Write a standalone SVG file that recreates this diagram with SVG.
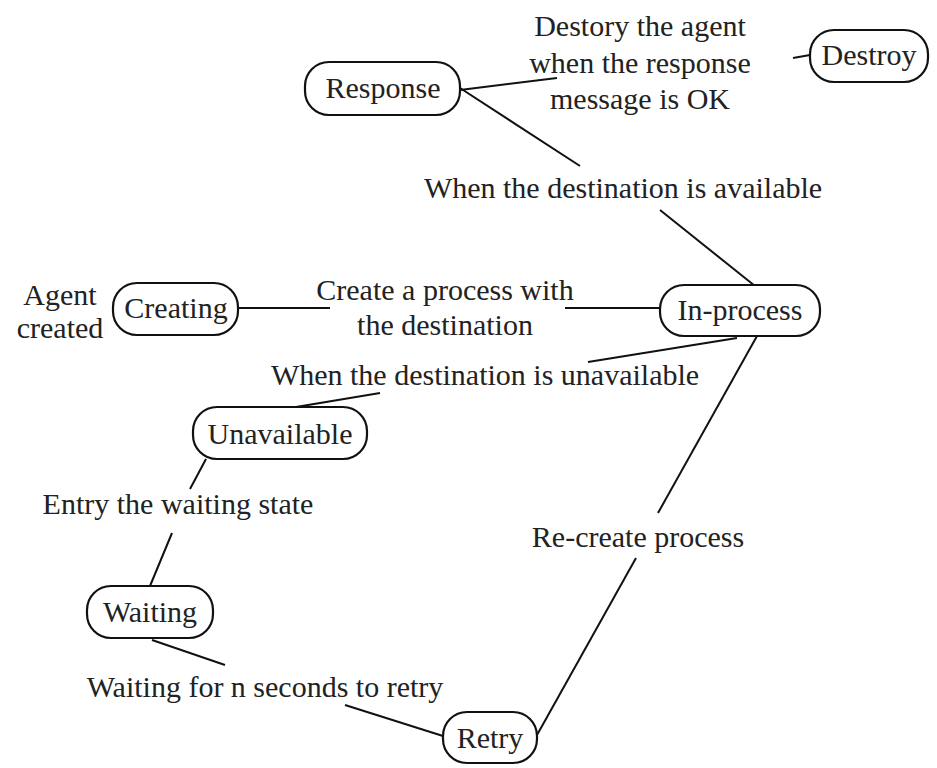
<svg xmlns="http://www.w3.org/2000/svg" width="937" height="768" viewBox="0 0 937 768">
<style>
.node rect{fill:#fff;stroke:#111;stroke-width:2.2}
text{font-family:'Liberation Serif','Times New Roman',serif;font-size:30px;fill:#222;text-anchor:middle}
.conn line{stroke:#111;stroke-width:2}
</style>
<rect width="937" height="768" fill="#fff"/>
<g id="connectors" class="conn">
<line x1="460" y1="90" x2="557" y2="78"/>
<line x1="793" y1="58" x2="810" y2="55"/>
<line x1="460" y1="88" x2="580" y2="166"/>
<line x1="660" y1="210" x2="755" y2="286"/>
<line x1="238" y1="308" x2="330" y2="308"/>
<line x1="565" y1="308" x2="660" y2="308"/>
<line x1="737" y1="338" x2="588" y2="362"/>
<line x1="380" y1="393" x2="290" y2="408"/>
<line x1="757" y1="336" x2="658" y2="513"/>
<line x1="636" y1="558" x2="537" y2="735"/>
<line x1="206" y1="459" x2="190" y2="489"/>
<line x1="172" y1="533" x2="150" y2="586"/>
<line x1="152" y1="640" x2="225" y2="665"/>
<line x1="345" y1="705" x2="443" y2="736"/>
</g>
<g id="label-destroy">
<text x="640" y="36">Destory the agent</text>
<text x="640" y="73">when the response</text>
<text x="640" y="109">message is OK</text>
</g>
<text id="label-available" x="623" y="198">When the destination is available</text>
<g id="label-agent">
<text x="60" y="305">Agent</text>
<text x="60" y="338">created</text>
</g>
<g id="label-create">
<text x="445" y="300">Create a process with</text>
<text x="445" y="335">the destination</text>
</g>
<text id="label-unavailable" x="485" y="385">When the destination is unavailable</text>
<text id="label-entry" x="178" y="514">Entry the waiting state</text>
<text id="label-recreate" x="638" y="547">Re-create process</text>
<text id="label-retry" x="265" y="697">Waiting for n seconds to retry</text>
<g id="node-response" class="node"><rect x="305" y="62" width="155" height="53" rx="24"/><text x="383" y="98">Response</text></g>
<g id="node-destroy" class="node"><rect x="810" y="30" width="118" height="52" rx="24"/><text x="869" y="65">Destroy</text></g>
<g id="node-creating" class="node"><rect x="113" y="283" width="125" height="52" rx="24"/><text x="176" y="318">Creating</text></g>
<g id="node-inprocess" class="node"><rect x="660" y="285" width="160" height="51" rx="24"/><text x="740" y="320">In-process</text></g>
<g id="node-unavailable" class="node"><rect x="193" y="407" width="174" height="52" rx="24"/><text x="280" y="444">Unavailable</text></g>
<g id="node-waiting" class="node"><rect x="87" y="586" width="126" height="52" rx="24"/><text x="150" y="622">Waiting</text></g>
<g id="node-retry" class="node"><rect x="443" y="712" width="94" height="51" rx="24"/><text x="490" y="748">Retry</text></g>
</svg>
